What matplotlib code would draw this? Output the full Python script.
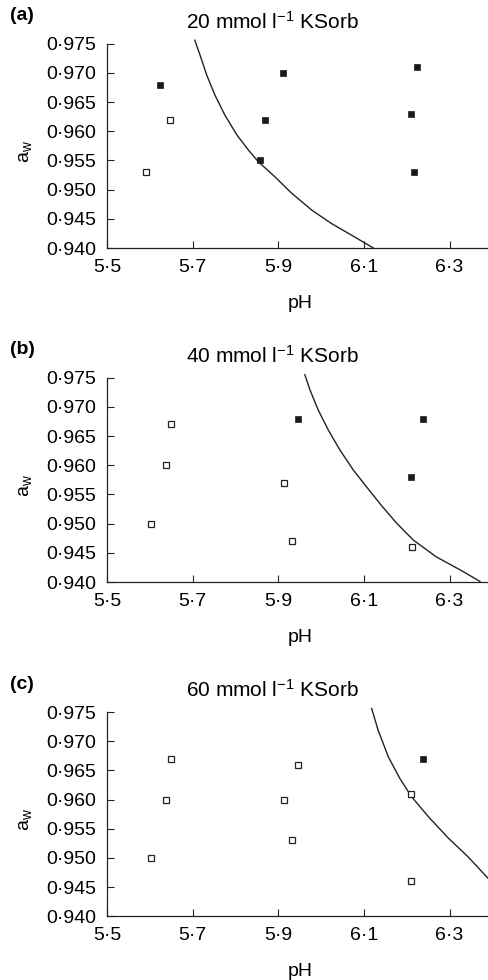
import numpy as np
import matplotlib.pyplot as plt

plt.rcParams['font.family'] = ['Liberation Sans', 'DejaVu Sans']
plt.rcParams['mathtext.fontset'] = 'custom'
plt.rcParams['mathtext.rm'] = 'Liberation Sans'
plt.rcParams['mathtext.it'] = 'Liberation Sans'

panel_tags = ['(a)', '(b)', '(c)']
concentrations = [20, 40, 60]

# growth (filled) / no growth (open) observations
a_growth_ph = [5.624, 5.910, 5.868, 5.857, 6.223, 6.210, 6.216]
a_growth_aw = [0.968, 0.970, 0.962, 0.955, 0.971, 0.963, 0.953]
a_none_ph = [5.590, 5.648]
a_none_aw = [0.953, 0.962]

b_growth_ph = [5.947, 6.238, 6.211]
b_growth_aw = [0.968, 0.968, 0.958]
b_none_ph = [5.649, 5.638, 5.603, 5.913, 5.931, 6.212]
b_none_aw = [0.967, 0.960, 0.950, 0.957, 0.947, 0.946]

c_growth_ph = [6.238]
c_growth_aw = [0.967]
c_none_ph = [5.649, 5.638, 5.603, 5.947, 5.913, 5.931, 6.211, 6.211]
c_none_aw = [0.967, 0.960, 0.950, 0.966, 0.960, 0.953, 0.961, 0.946]

# growth/no-growth boundary
a_curve_ph = [5.705, 5.717, 5.733, 5.752, 5.775, 5.803, 5.830, 5.853,
              5.892, 5.931, 5.978, 6.024, 6.071, 6.122]
a_curve_aw = [0.9756, 0.9731, 0.9696, 0.9662, 0.9628, 0.9594, 0.9568, 0.9548,
              0.9522, 0.9494, 0.9465, 0.9442, 0.9422, 0.9400]
b_curve_ph = [5.962, 5.974, 5.993, 6.017, 6.044, 6.075, 6.106, 6.141,
              6.176, 6.215, 6.269, 6.324, 6.371]
b_curve_aw = [0.9755, 0.9729, 0.9695, 0.9660, 0.9626, 0.9592, 0.9563, 0.9531,
              0.9501, 0.9472, 0.9443, 0.9421, 0.9401]
c_curve_ph = [6.118, 6.133, 6.157, 6.184, 6.211, 6.250, 6.297, 6.343, 6.390]
c_curve_aw = [0.9756, 0.9719, 0.9673, 0.9636, 0.9605, 0.9571, 0.9534, 0.9502, 0.9465]

x_ticks = [5.5, 5.7, 5.9, 6.1, 6.3]
x_labels = ['5·5', '5·7', '5·9', '6·1', '6·3']
y_ticks = [0.940, 0.945, 0.950, 0.955, 0.960, 0.965, 0.970, 0.975]
y_labels = ['0·940', '0·945', '0·950', '0·955', '0·960', '0·965', '0·970', '0·975']

panels = [
  (a_growth_ph, a_growth_aw, a_none_ph, a_none_aw, a_curve_ph, a_curve_aw),
  (b_growth_ph, b_growth_aw, b_none_ph, b_none_aw, b_curve_ph, b_curve_aw),
  (c_growth_ph, c_growth_aw, c_none_ph, c_none_aw, c_curve_ph, c_curve_aw),
]

W, H = 489, 980
fig = plt.figure(figsize=(W / 100, H / 100), dpi=100)

# axes bottoms (px from top) for each panel
axis_bottom = [248, 582, 916.3]
axis_h = 204.3
left, right = 107, 489
fs = 14

for i, (gx, gy, nx, ny, cx, cy) in enumerate(panels):
  top = axis_bottom[i] - axis_h
  ax = fig.add_axes([left / W, 1 - axis_bottom[i] / H, (right - left) / W, axis_h / H])
  ax.plot(cx, cy, color='#222222', lw=1.0, clip_on=False, zorder=2)
  ax.plot(nx, ny, 's', ms=4.6, mfc='white', mec='#222222', mew=0.9, zorder=3)
  ax.plot(gx, gy, 's', ms=5.0, mfc='#1a1a1a', mec='#1a1a1a', mew=0.5, zorder=3)

  ax.set_xlim(5.5, 6.392)
  ax.set_ylim(0.940, 0.975)
  ax.set_xticks(x_ticks)
  ax.set_xticklabels(x_labels)
  ax.set_yticks(y_ticks)
  ax.set_yticklabels(y_labels)
  ax.tick_params(direction='in', length=5, width=0.8, labelsize=fs, color='#222222')
  ax.tick_params(axis='y', pad=8)
  ax.tick_params(axis='x', pad=8)
  for s in ['top', 'right']:
    ax.spines[s].set_visible(False)
  for s in ['left', 'bottom']:
    ax.spines[s].set_linewidth(0.9)
    ax.spines[s].set_color('#222222')

  fig.text(272 / W, 1 - (top - 22) / H, '%d mmol l$^{-1}$ KSorb' % concentrations[i],
           ha='center', va='center', fontsize=15)
  fig.text(10 / W, 1 - (top - 28) / H, panel_tags[i], ha='left', va='center',
           fontsize=14, fontweight='bold')
  fig.text(300 / W, 1 - (axis_bottom[i] + 55) / H, 'pH', ha='center', va='center', fontsize=fs)
  fig.text(25 / W, 1 - (top + 108) / H, 'a$_{\\mathrm{w}}$', ha='center', va='center',
           fontsize=fs, rotation=90)

fig.savefig('out.png', dpi=100)
